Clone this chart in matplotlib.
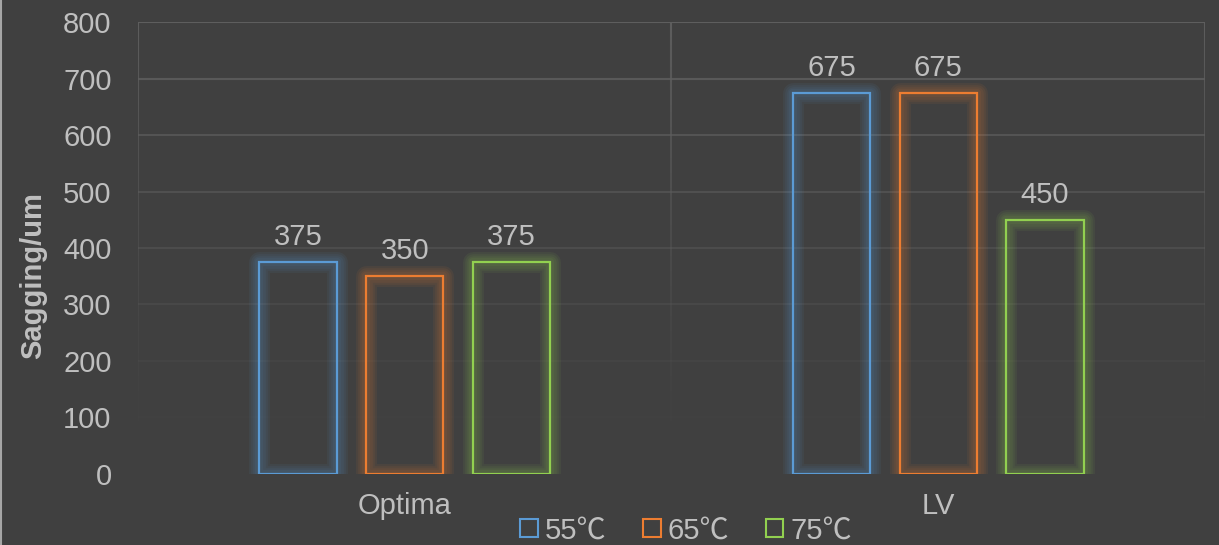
import matplotlib
matplotlib.use("Agg")
import matplotlib.pyplot as plt
import matplotlib.patheffects as pe
from matplotlib.patches import Patch
import numpy as np

categories = ["Optima", "LV"]
series     = ["55\u2103", "65\u2103", "75\u2103"]
values     = [[375, 675],
              [350, 675],
              [375, 450]]
colors     = ["#5B9BD5", "#ED7D31", "#92D050"]
yticks     = [0, 100, 200, 300, 400, 500, 600, 700, 800]

bg   = "#404040"
txt  = "#BFBFBF"
grid = "#5E5E5E"

plt.rcParams['font.family'] = ['Liberation Sans', 'DejaVu Sans']

fig = plt.figure(figsize=(12.19, 5.45), dpi=100)
fig.patch.set_facecolor(bg)
ax = fig.add_axes([0.1132, 0.1303, 0.8753, 0.8293])
ax.set_facecolor(bg)

x = np.arange(len(categories))
width = 0.145
step = 0.2

# gridlines that fade towards the bottom
for v in yticks:
    a = (v / 800.) ** 1.3
    ax.axhline(v, color=grid, lw=1.5, alpha=a, zorder=0)
n = 60
ys = np.linspace(0, 800, n + 1)
for xv in [-0.5, 0.5, 1.5]:
    for k in range(n):
        a = (ys[k] / 800.) ** 1.5
        ax.plot([xv, xv], [ys[k], ys[k + 1]], color=grid, lw=1.5,
                alpha=a, solid_capstyle='butt', zorder=0)

for i, (vals, c) in enumerate(zip(values, colors)):
    bars = ax.bar(x + (i - 1) * step, vals, width, facecolor='none',
                  edgecolor=c, linewidth=1.6, zorder=3)
    for b in bars:
        # soft glow round each bar
        b.set_path_effects([pe.Stroke(linewidth=w, foreground=c, alpha=0.07,
                                      joinstyle='round')
                            for w in (15, 12, 9, 6)] + [pe.Normal()])
    for xi, v in zip(x + (i - 1) * step, vals):
        ax.annotate(str(v), (xi, v), xytext=(0, 8), textcoords='offset points',
                    ha='center', va='bottom', fontsize=21, color=txt)

ax.set_xlim(-0.5, 1.5)
ax.set_ylim(0, 800)
ax.set_yticks(yticks)
ax.set_xticks(x)
ax.set_xticklabels(categories)
ax.tick_params(axis='both', length=0, labelsize=21, labelcolor=txt)
ax.tick_params(axis='y', pad=19)
ax.tick_params(axis='x', pad=13)
for s in ax.spines.values():
    s.set_visible(False)

fig.text(0.027, 0.495, "Sagging/um", rotation=90, ha='center', va='center',
         fontsize=21, fontweight='bold', color=txt)

# left border line
fig.add_artist(plt.Line2D([0.0008, 0.0008], [0, 1], color="#A6A6A6", lw=1.5))

handles = [Patch(facecolor='none', edgecolor=c, linewidth=1.5) for c in colors]
fig.legend(handles, series, loc='center', bbox_to_anchor=(0.563, 0.027),
           ncol=3, frameon=False, labelcolor=txt,
           handlelength=0.6, handleheight=0.6, handletextpad=0.25,
           columnspacing=1.25, borderpad=0.1,
           prop={'family': ['Liberation Sans', 'Noto Sans CJK SC'], 'size': 21})

fig.savefig("out.png", dpi=100, facecolor=bg)
